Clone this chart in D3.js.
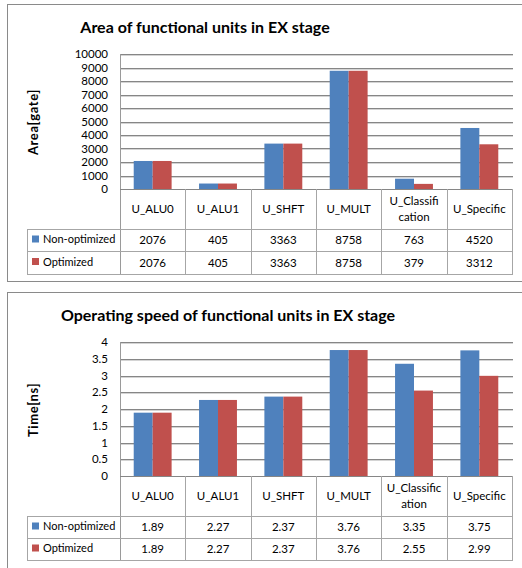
<!DOCTYPE html>
<html><head><meta charset="utf-8">
<script src="https://cdn.jsdelivr.net/npm/d3@7/dist/d3.min.js"></script>
<style>html,body{margin:0;padding:0;background:#fff;}svg{display:block;font-family:Lato,"Open Sans",sans-serif;}</style>
</head><body>
<script>
// ---- data ----
const categories = ["U_ALU0","U_ALU1","U_SHFT","U_MULT","U_Classification","U_Specific"];
const catLabels1 = [["U_ALU0"],["U_ALU1"],["U_SHFT"],["U_MULT"],["U_Classifi","cation"],["U_Specific"]];
const catLabels2 = [["U_ALU0"],["U_ALU1"],["U_SHFT"],["U_MULT"],["U_Classific","ation"],["U_Specific"]];
const seriesNames = ["Non-optimized","Optimized"];
const areaNonOpt = [2076,405,3363,8758,763,4520];
const areaOpt = [2076,405,3363,8758,379,3312];
const timeNonOpt = [1.89,2.27,2.37,3.76,3.35,3.75];
const timeOpt = [1.89,2.27,2.37,3.76,2.55,2.99];
const areaTicks = [0,1000,2000,3000,4000,5000,6000,7000,8000,9000,10000];
const timeTicks = [0,0.5,1,1.5,2,2.5,3,3.5,4];
const areaTable1 = ["2076","405","3363","8758","763","4520"];
const areaTable2 = ["2076","405","3363","8758","379","3312"];
const timeTable1 = ["1.89","2.27","2.37","3.76","3.35","3.75"];
const timeTable2 = ["1.89","2.27","2.37","3.76","2.55","2.99"];
const colors = ["#4F81BD","#C0504D"];

const W = 522, H = 568;
const svg = d3.select("body").append("svg").attr("width", W).attr("height", H);

function drawChart(cfg) {
  const g = svg.append("g");
  // frame
  g.append("rect").attr("x", 7.5).attr("y", cfg.frameTop + 0.5)
    .attr("width", 540).attr("height", cfg.frameBottom - cfg.frameTop)
    .attr("fill", "#fff").attr("stroke", "#8a8a8a").attr("stroke-width", 1);
  // title
  g.append("text").attr("x", cfg.titleX).attr("y", cfg.titleY)
    .attr("text-anchor", "middle").attr("font-size", 16).attr("font-weight", "bold")
    .attr("fill", "#000").text(cfg.title);

  const left = 120, right = 512;
  const x0 = d3.scaleBand().domain(categories).range([left, right]);
  const bw = x0.bandwidth();
  const y = d3.scaleLinear().domain(cfg.domain).range([cfg.plotBottom, cfg.plotTop]);

  // gridlines
  const ticks = cfg.ticks;
  ticks.forEach(t => {
    if (t === ticks[0]) return;
    const yy = Math.round(y(t));
    g.append("line").attr("x1", left).attr("x2", right + 1).attr("y1", yy + 0.5).attr("y2", yy + 0.5)
      .attr("stroke", "#868686");
    g.append("line").attr("x1", left).attr("x2", right + 1).attr("y1", yy + 1.5).attr("y2", yy + 1.5)
      .attr("stroke", "#d4d4d4");
  });
  // tick labels
  ticks.forEach(t => {
    g.append("text").attr("x", 108).attr("y", y(t) + 4)
      .attr("text-anchor", "end").attr("font-size", 11.5).attr("fill", "#000").text(cfg.fmt(t));
  });
  // y axis title
  g.append("text").attr("transform", `translate(${38},${cfg.yTitleY}) rotate(-90)`)
    .attr("text-anchor", "middle").attr("font-size", 13).attr("letter-spacing", 0.6)
    .attr("font-weight", "bold").text(cfg.yTitle);

  // bars
  const series = [cfg.s1, cfg.s2];
  series.forEach((vals, si) => {
    g.selectAll(null).data(vals).enter().append("rect")
      .attr("x", (d, i) => x0(categories[i]) + bw / 2 - bw * 0.29 + si * bw * 0.29)
      .attr("width", bw * 0.29)
      .attr("y", d => y(d))
      .attr("height", d => y(cfg.domain[0]) - y(d))
      .attr("fill", colors[si]);
  });

  // axis line (left)
  g.append("line").attr("x1", left + 0.5).attr("x2", left + 0.5).attr("y1", cfg.plotTop).attr("y2", cfg.rows[3])
    .attr("stroke", "#9a9a9a");

  // data table
  const r = cfg.rows; // [top, catBottom, row1Bottom, row2Bottom]
  const lc = "#a6a6a6";
  g.append("line").attr("x1", left).attr("x2", right + 1).attr("y1", r[0] + 0.5).attr("y2", r[0] + 0.5).attr("stroke", "#868686");
  [r[1], r[2], r[3]].forEach(yy => {
    g.append("line").attr("x1", 27).attr("x2", right + 1).attr("y1", yy + 0.5).attr("y2", yy + 0.5).attr("stroke", lc);
  });
  categories.forEach((c, i) => {
    const xx = Math.round(x0(c) + bw);
    g.append("line").attr("x1", xx + 0.5).attr("x2", xx + 0.5).attr("y1", r[0]).attr("y2", r[3]).attr("stroke", lc);
  });
  g.append("line").attr("x1", 27.5).attr("x2", 27.5).attr("y1", r[1]).attr("y2", r[3]).attr("stroke", lc);

  // category labels
  cfg.catLabels.forEach((lines, i) => {
    const cx = x0(categories[i]) + bw / 2;
    const cy = (r[0] + r[1]) / 2;
    lines.forEach((ln, k) => {
      g.append("text").attr("x", cx).attr("y", cy + 4 + (k - (lines.length - 1) / 2) * 16)
        .attr("text-anchor", "middle").attr("font-size", 11.5).text(ln);
    });
  });
  // data rows
  [cfg.t1, cfg.t2].forEach((vals, si) => {
    const cy = (r[1 + si] + r[2 + si]) / 2;
    g.append("rect").attr("x", 32).attr("y", cy - 4.5).attr("width", 7).attr("height", 7).attr("fill", colors[si]);
    g.append("text").attr("x", 43).attr("y", cy + 3).attr("font-size", 11).text(seriesNames[si]);
    vals.forEach((v, i) => {
      g.append("text").attr("x", x0(categories[i]) + bw / 2).attr("y", cy + 4)
        .attr("text-anchor", "middle").attr("font-size", 11.5).text(v);
    });
  });
}

drawChart({
  frameTop: 4, frameBottom: 281,
  title: "Area of functional units in EX stage", titleX: 205, titleY: 33,
  domain: [0, 10000], ticks: areaTicks, fmt: d => String(d),
  plotTop: 54, plotBottom: 189,
  yTitle: "Area[gate]", yTitleY: 122,
  s1: areaNonOpt, s2: areaOpt, t1: areaTable1, t2: areaTable2,
  rows: [189, 229, 251, 274], catLabels: catLabels1
});
drawChart({
  frameTop: 292, frameBottom: 600,
  title: "Operating speed of functional units in EX stage", titleX: 228, titleY: 321,
  domain: [0, 4], ticks: timeTicks, fmt: d => String(d),
  plotTop: 342, plotBottom: 476,
  yTitle: "Time[ns]", yTitleY: 410,
  s1: timeNonOpt, s2: timeOpt, t1: timeTable1, t2: timeTable2,
  rows: [476, 516, 538, 560], catLabels: catLabels2
});
</script>
</body></html>
